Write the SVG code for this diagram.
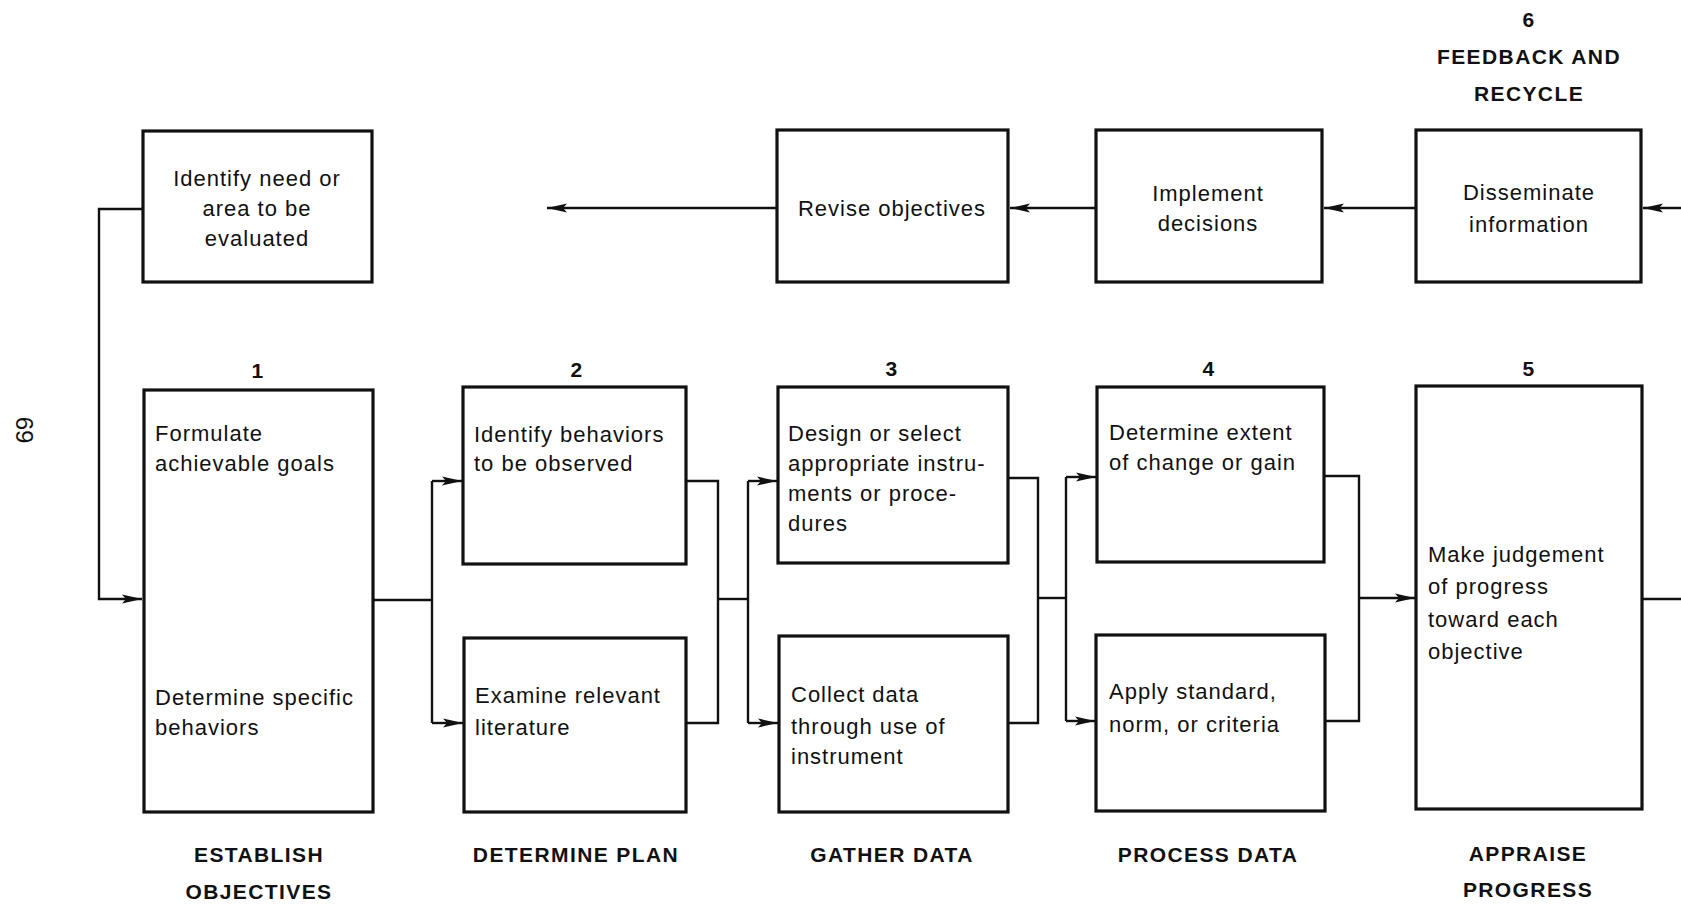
<svg xmlns="http://www.w3.org/2000/svg" width="1681" height="904" viewBox="0 0 1681 904">
<defs>
<style>
.box{fill:#fff;stroke:#111;stroke-width:3.2}
.t{font-family:"Liberation Sans",Arial,sans-serif;font-size:22px;letter-spacing:1px;fill:#111}
.c{text-anchor:middle}
.b{font-family:"Liberation Sans",Arial,sans-serif;font-size:21px;font-weight:bold;letter-spacing:1.4px;fill:#111;text-anchor:middle}
.ln{fill:none;stroke:#111;stroke-width:2.4}
</style>
<marker id="ah" markerUnits="userSpaceOnUse" markerWidth="22" markerHeight="12" refX="20" refY="5" orient="auto">
<path d="M0,0.5 L20,5 L0,9.5 L4,5 z" fill="#111"/>
</marker>
</defs>
<rect width="1681" height="904" fill="#fff"/>

<text class="t" style="font-size:24px;letter-spacing:0" transform="translate(16,430) rotate(90)" text-anchor="middle">69</text>

<g id="connectors">
<polyline class="ln" points="143,209 99,209 99,599 142,599" marker-end="url(#ah)"/>
<polyline class="ln" points="1681,208 1643,208" marker-end="url(#ah)"/>
<polyline class="ln" points="1416,208 1324,208" marker-end="url(#ah)"/>
<polyline class="ln" points="1096,208 1010,208" marker-end="url(#ah)"/>
<polyline class="ln" points="777,208 547,208" marker-end="url(#ah)"/>
<polyline class="ln" points="373,600 432,600"/>
<polyline class="ln" points="432,481 432,723"/>
<polyline class="ln" points="432,481 462,481" marker-end="url(#ah)"/>
<polyline class="ln" points="432,723 463,723" marker-end="url(#ah)"/>
<polyline class="ln" points="686,481 718,481 718,723 686,723"/>
<polyline class="ln" points="718,599 748,599"/>
<polyline class="ln" points="748,481 748,723"/>
<polyline class="ln" points="748,481 777,481" marker-end="url(#ah)"/>
<polyline class="ln" points="748,723 778,723" marker-end="url(#ah)"/>
<polyline class="ln" points="1008,478 1038,478 1038,723 1008,723"/>
<polyline class="ln" points="1038,598 1066,598"/>
<polyline class="ln" points="1066,477 1066,721"/>
<polyline class="ln" points="1066,477 1096,477" marker-end="url(#ah)"/>
<polyline class="ln" points="1066,721 1095,721" marker-end="url(#ah)"/>
<polyline class="ln" points="1324,476 1359,476 1359,721 1325,721"/>
<polyline class="ln" points="1359,598 1415,598" marker-end="url(#ah)"/>
<polyline class="ln" points="1642,599 1681,599"/>
</g>

<g id="header6">
<text class="b" x="1529" y="27">6</text>
<text class="b" x="1529" y="64">FEEDBACK AND</text>
<text class="b" x="1529" y="101">RECYCLE</text>
</g>

<g id="identify">
<rect class="box" x="143" y="131" width="229" height="151"/>
<text class="t c" x="257" y="186">Identify need or</text>
<text class="t c" x="257" y="216">area to be</text>
<text class="t c" x="257" y="246">evaluated</text>
</g>

<g id="revise">
<rect class="box" x="777" y="130" width="231" height="152"/>
<text class="t c" x="892" y="216">Revise objectives</text>
</g>

<g id="implement">
<rect class="box" x="1096" y="130" width="226" height="152"/>
<text class="t c" x="1208" y="201">Implement</text>
<text class="t c" x="1208" y="231">decisions</text>
</g>

<g id="disseminate">
<rect class="box" x="1416" y="130" width="225" height="152"/>
<text class="t c" x="1529" y="200">Disseminate</text>
<text class="t c" x="1529" y="232">information</text>
</g>

<g id="step1">
<text class="b" x="258" y="378">1</text>
<rect class="box" x="144" y="390" width="229" height="422"/>
<text class="t" x="155" y="441">Formulate</text>
<text class="t" x="155" y="471">achievable goals</text>
<text class="t" x="155" y="705">Determine specific</text>
<text class="t" x="155" y="735">behaviors</text>
<text class="b" x="259" y="862">ESTABLISH</text>
<text class="b" x="259" y="899">OBJECTIVES</text>
</g>

<g id="step2">
<text class="b" x="577" y="377">2</text>
<rect class="box" x="463" y="387" width="223" height="177"/>
<text class="t" x="474" y="442">Identify behaviors</text>
<text class="t" x="474" y="471">to be observed</text>
<rect class="box" x="464" y="638" width="222" height="174"/>
<text class="t" x="475" y="703">Examine relevant</text>
<text class="t" x="475" y="735">literature</text>
<text class="b" x="576" y="862">DETERMINE PLAN</text>
</g>

<g id="step3">
<text class="b" x="892" y="376">3</text>
<rect class="box" x="778" y="387" width="230" height="176"/>
<text class="t" x="788" y="441">Design or select</text>
<text class="t" x="788" y="471">appropriate instru-</text>
<text class="t" x="788" y="501">ments or proce-</text>
<text class="t" x="788" y="531">dures</text>
<rect class="box" x="779" y="636" width="229" height="176"/>
<text class="t" x="791" y="702">Collect data</text>
<text class="t" x="791" y="734">through use of</text>
<text class="t" x="791" y="764">instrument</text>
<text class="b" x="892" y="862">GATHER DATA</text>
</g>

<g id="step4">
<text class="b" x="1209" y="376">4</text>
<rect class="box" x="1097" y="387" width="227" height="175"/>
<text class="t" x="1109" y="440">Determine extent</text>
<text class="t" x="1109" y="470">of change or gain</text>
<rect class="box" x="1096" y="635" width="229" height="176"/>
<text class="t" x="1109" y="699">Apply standard,</text>
<text class="t" x="1109" y="732">norm, or criteria</text>
<text class="b" x="1208" y="862">PROCESS DATA</text>
</g>

<g id="step5">
<text class="b" x="1529" y="376">5</text>
<rect class="box" x="1416" y="386" width="226" height="423"/>
<text class="t" x="1428" y="562">Make judgement</text>
<text class="t" x="1428" y="594">of progress</text>
<text class="t" x="1428" y="627">toward each</text>
<text class="t" x="1428" y="659">objective</text>
<text class="b" x="1528" y="861">APPRAISE</text>
<text class="b" x="1528" y="897">PROGRESS</text>
</g>
</svg>
